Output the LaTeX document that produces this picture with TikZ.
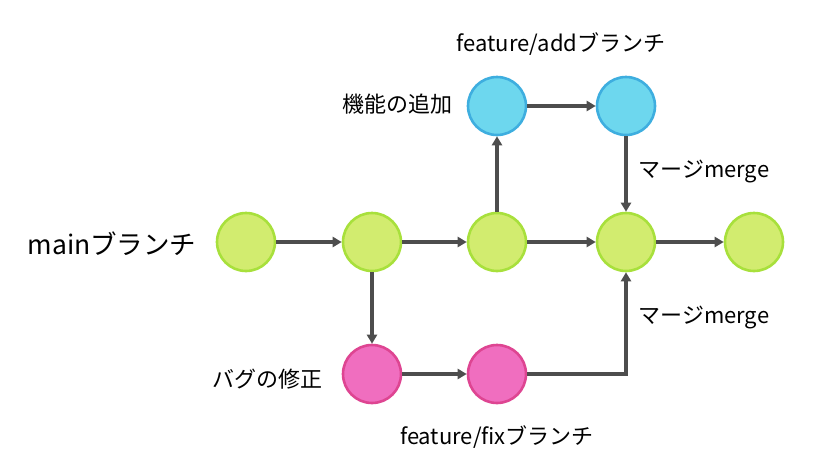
\documentclass[tikz,border=0pt]{standalone}
\usepackage{fontspec}
\setmainfont{Noto Sans CJK JP}
\usetikzlibrary{arrows.meta,positioning}
\definecolor{mainfill}{HTML}{D2EC6F}
\definecolor{mainline}{HTML}{A8E03C}
\definecolor{addfill}{HTML}{6DD7EE}
\definecolor{addline}{HTML}{3EAEDF}
\definecolor{fixfill}{HTML}{F06EBF}
\definecolor{fixline}{HTML}{DE4592}
\definecolor{flow}{HTML}{4D4D4D}

\begin{document}
\begin{tikzpicture}[x=1pt,y=-1pt, font=\fontsize{22}{26}\selectfont,
  commit/.style={circle, minimum size=58pt, inner sep=0pt, line width=2.6pt},
  flowline/.style={draw=flow, line width=3.2pt, -{Triangle[length=9pt,width=10pt]}}]
\useasboundingbox (0,0) rectangle (814,474);
% commits
\foreach \name/\x in {m1/246,m2/372,m3/497,m4/626,m5/754}{
  \node[commit, fill=mainfill, draw=mainline] (\name) at (\x,242) {};
}
\foreach \name/\x in {a1/497,a2/626}{
  \node[commit, fill=addfill, draw=addline] (\name) at (\x,106) {};
}
\foreach \name/\x in {f1/372,f2/497}{
  \node[commit, fill=fixfill, draw=fixline] (\name) at (\x,374) {};
}
% connectors
\draw[flowline] (m1) -- (m2);
\draw[flowline] (m2) -- (m3);
\draw[flowline] (m3) -- (m4);
\draw[flowline] (m4) -- (m5);
\draw[flowline] (m3) -- (a1);
\draw[flowline] (a1) -- (a2);
\draw[flowline] (a2) -- (m4);
\draw[flowline] (m2) -- (f1);
\draw[flowline] (f1) -- (f2);
\draw[flowline] (f2.east) -| (m4.south);
% labels
\node[anchor=east, font=\fontsize{26.5}{30}\selectfont] (mainlabel) at (200,244) {mainブランチ};
\node[anchor=east] (addtask) at (456,104) {機能の追加};
\node (addlabel) at (561,44) {feature/addブランチ};
\node[anchor=west] (mergetop) at (635,172) {マージmerge};
\node[anchor=west] (mergebottom) at (635,318) {マージmerge};
\node[anchor=east] (fixtask) at (326,379) {バグの修正};
\node (fixlabel) at (497,437) {feature/fixブランチ};
\end{tikzpicture}
\end{document}
